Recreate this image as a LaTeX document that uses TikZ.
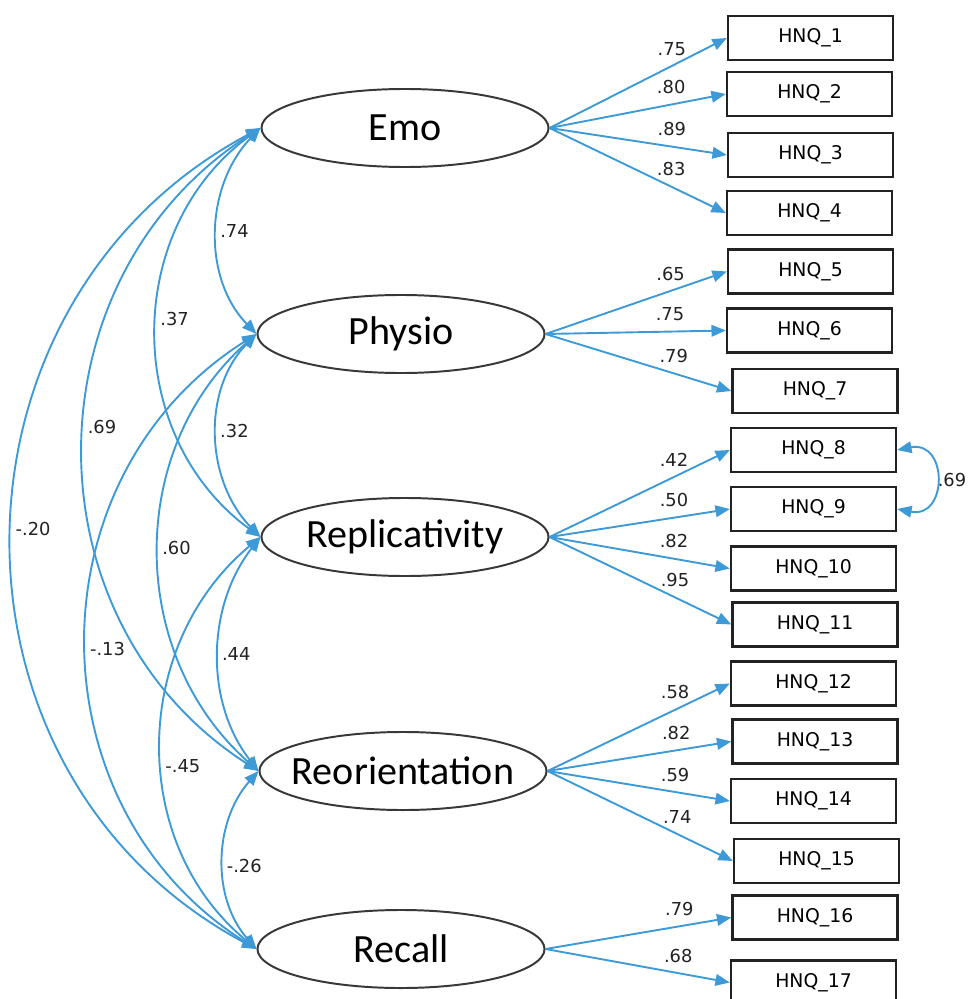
\documentclass[tikz,border=0pt]{standalone}
\usepackage{fontspec}
\usepackage{tikz}
\usetikzlibrary{arrows.meta,shapes.geometric}
\setmainfont{DejaVu Sans}
\newfontfamily\latfont{Carlito}
\definecolor{SemBlue}{HTML}{3D9AD6}
\definecolor{SemInk}{HTML}{222222}

\tikzset{
  latent/.style={ellipse, draw=SemInk!90, line width=1.4pt, fill=white,
    minimum width=7.175cm, minimum height=1.95cm, inner sep=0pt,
    label={[font=\latfont\fontsize{28.5}{30}\selectfont]center:#1}},
  obs/.style={rectangle, draw=SemInk, line width=1.6pt, minimum width=4.125cm,
    minimum height=1.1cm, inner sep=0pt, font=\fontsize{13.4}{15}\selectfont},
  load/.style={-{Triangle[length=0.36cm,width=0.29cm]}, SemBlue, line width=1.35pt},
  cov/.style={{Triangle[length=0.36cm,width=0.29cm]}-{Triangle[length=0.36cm,width=0.29cm]},
    SemBlue, line width=1.35pt},
  ldlab/.style={pos=0.69, anchor=south, inner sep=0pt, yshift=0.24cm, text=SemInk,
    font=\fontsize{12.7}{14}\selectfont},
  covlab/.style={anchor=west, inner sep=1.5pt, text=SemInk, font=\fontsize{12.7}{14}\selectfont},
}

\begin{document}
\begin{tikzpicture}[x=0.025cm, y=-0.025cm]
\useasboundingbox (0,0) rectangle (967,999);
% latent factors
\node[latent=Emo] (emo) at (405,128) {};
\node[latent=Physio] (physio) at (401,334) {};
\node[latent=Replicativity] (replic) at (405,537) {};
\node[latent=Reorientation] (reorient) at (403,771) {};
\node[latent=Recall] (recall) at (401,949) {};
% items
\foreach \i/\x/\y in {1/810.5/38, 2/809.5/94, 3/810.5/155, 4/809.5/213, 5/810.5/271.5,
    6/809.5/330.5, 7/815/391, 8/813.5/450, 9/813.5/509, 10/813.5/568.5, 11/815/624.5,
    12/813.5/683.5, 13/815/741.5, 14/813.5/801, 15/816.5/861, 16/815/917.5, 17/813.5/982.5}
  \node[obs] (q\i) at (\x,\y) {HNQ\_\i};
% loadings
\foreach \i/\v in {1/.75, 2/.80, 3/.89, 4/.83}
  \draw[load] (emo.east) -- node[ldlab] {\v} (q\i.west);
\foreach \i/\v in {5/.65, 6/.75, 7/.79}
  \draw[load] (physio.east) -- node[ldlab] {\v} (q\i.west);
\foreach \i/\v in {8/.42, 9/.50, 10/.82, 11/.95}
  \draw[load] (replic.east) -- node[ldlab] {\v} (q\i.west);
\foreach \i/\v in {12/.58, 13/.82, 14/.59, 15/.74}
  \draw[load] (reorient.east) -- node[ldlab, pos=0.7] {\v} (q\i.west);
\foreach \i/\v in {16/.79, 17/.68}
  \draw[load] (recall.east) -- node[ldlab, pos=0.72] {\v} (q\i.west);
% factor covariances
\draw[cov] (emo.west) .. controls +(-55,57) and +(-55,-57) .. node[covlab] {.74} (physio.west);
\draw[cov] (emo.west) .. controls +(-138,101) and +(-138,-101) .. node[covlab, pos=0.47] {.37} (replic.west);
\draw[cov] (emo.west) .. controls +(-234,150) and +(-234,-150) .. node[covlab, pos=0.47] {.69} (reorient.west);
\draw[cov] (emo.west) .. controls +(-328,175) and +(-328,-175) .. node[covlab, pos=0.49] {-.20} (recall.west);
\draw[cov] (physio.west) .. controls +(-55,56) and +(-55,-56) .. node[covlab, pos=0.48] {.32} (replic.west);
\draw[cov] (physio.west) .. controls +(-131,116) and +(-131,-116) .. node[covlab, pos=0.49] {.60} (reorient.west);
\draw[cov] (physio.west) .. controls +(-226,143) and +(-226,-143) .. node[covlab, pos=0.51] {-.13} (recall.west);
\draw[cov] (replic.west) .. controls +(-54,69) and +(-54,-69) .. node[covlab] {.44} (reorient.west);
\draw[cov] (replic.west) .. controls +(-129,107) and +(-129,-107) .. node[covlab, pos=0.55] {-.45} (recall.west);
\draw[cov] (reorient.west) .. controls +(-45,51) and +(-45,-51) .. node[covlab, pos=0.53] {-.26} (recall.west);
% error covariance
\draw[cov] (q8.east) .. controls +(51,-10) and +(51,10) .. node[covlab, inner sep=1pt] {.69} (q9.east);
\end{tikzpicture}
\end{document}
